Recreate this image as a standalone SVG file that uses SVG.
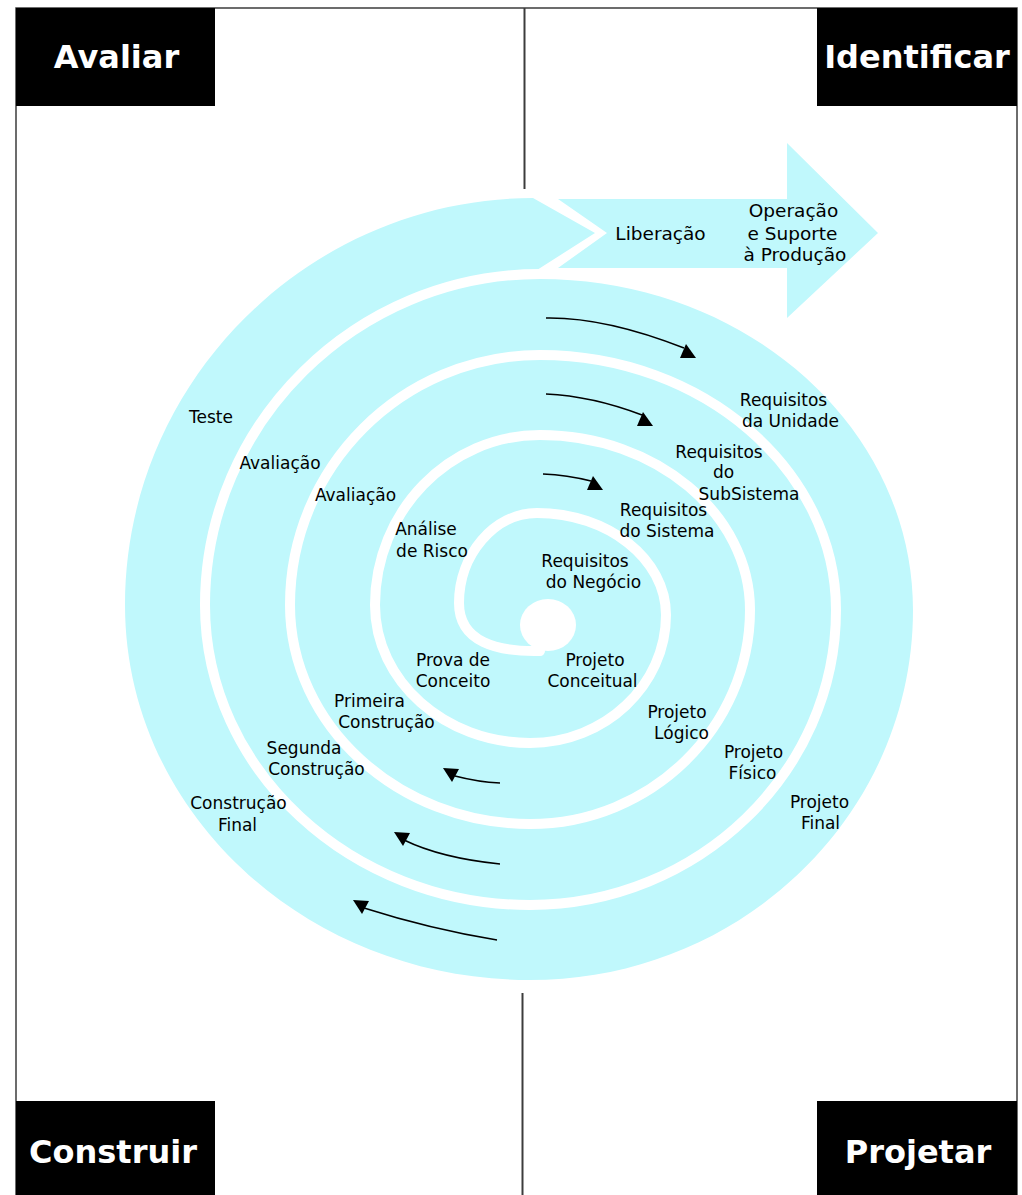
<svg xmlns="http://www.w3.org/2000/svg" xmlns:xlink="http://www.w3.org/1999/xlink" width="1022" height="1195" viewBox="0 0 1022 1195">
<defs>
<style>
.frame{fill:none;stroke:#3c3c3c;stroke-width:1.5}
.divider{fill:none;stroke:#3c3c3c;stroke-width:2}
.box{fill:#000}
.head{font-family:"DejaVu Sans","Liberation Sans",sans-serif;font-weight:bold;font-size:32px;fill:#fff;text-anchor:middle}
.lbl{font-family:"DejaVu Sans","Liberation Sans",sans-serif;font-size:17px;fill:#000;text-anchor:middle}
.big{font-size:18.5px}
.cyan{fill:#C0F8FC}
.gap{fill:none;stroke:#fff;stroke-width:10;stroke-linecap:round}
.conn{fill:none;stroke:#000;stroke-width:1.5}
</style>
<path id="headUp" d="M0,0 L10,14 L-6,14 Z" fill="#000"/>
<path id="headDown" d="M0,0 L-9,-14 L7,-13 Z" fill="#000"/>
</defs>
<rect width="1022" height="1195" fill="#fff"/>

<g id="frame">
<rect class="frame" x="16" y="8" width="1001" height="1200"/>
<line class="divider" x1="524.5" y1="8" x2="524.5" y2="189"/>
<line class="divider" x1="522.5" y1="993" x2="522.5" y2="1195"/>
</g>

<g id="spiral">
<path class="cyan" d="M540,279 C746,279 913,427 913,610 C913,814 742,980 530,980 C306,980 125,812 125,605 C125,380 311,198 533,198 L595,233 L537,270 Z"/>
<path id="release-arrow" class="cyan" d="M558,199 L787,199 L787,143 L878,233 L787,318 L787,268 L558,268 L607,233 Z"/>
<path class="gap" d="M540,651 C497,652 459,642 459,603 C459,555 494,513 537,513 C608,513 666,559 666,615 C666,685 605,743 530,743 C445,743 375,681 375,605 C375,511 449,435 540,435 C656,435 750,514 750,610 C750,727 651,824 530,824 C398,824 290,725 290,605 C290,467 402,355 540,355 C703,355 836,470 836,610 C836,772 698,905 530,905 C351,905 205,770 205,605 C205,423 356,274 540,274 L558,274"/>
<ellipse cx="548" cy="625" rx="28" ry="26" fill="#fff"/>
</g>

<g id="avaliar"><rect class="box" x="16" y="8" width="199" height="98"/><text class="head" x="116.5" y="67.5">Avaliar</text></g>
<g id="identificar"><rect class="box" x="817" y="8" width="200" height="98"/><text class="head" x="917" y="67.5">Identificar</text></g>
<g id="construir"><rect class="box" x="16" y="1101" width="199" height="94"/><text class="head" x="113" y="1163">Construir</text></g>
<g id="projetar"><rect class="box" x="817" y="1101" width="200" height="94"/><text class="head" x="918" y="1163">Projetar</text></g>

<g id="connectors">
<path class="conn" d="M546,318 Q605,317 684,348"/>
<use xlink:href="#headUp" x="686" y="344"/>
<path class="conn" d="M546,394 Q592,396 642,415"/>
<use xlink:href="#headUp" x="643" y="412"/>
<path class="conn" d="M543,474 Q567,475 591,481"/>
<use xlink:href="#headUp" x="593" y="476"/>
<path class="conn" d="M500,783 Q478,782 455,776"/>
<use xlink:href="#headDown" x="452" y="782"/>
<path class="conn" d="M500,864 Q441,858 404,840"/>
<use xlink:href="#headDown" x="403" y="846"/>
<path class="conn" d="M497,940 Q430,929 364,908"/>
<use xlink:href="#headDown" x="362" y="914"/>
</g>

<g id="liberacao"><text class="lbl big" x="660.5" y="240">Liberação</text></g>
<g id="operacao"><text class="lbl big" x="793.5" y="217">Operação</text><text class="lbl big" x="792.5" y="240">e Suporte</text><text class="lbl big" x="795" y="261">à Produção</text></g>
<g id="req-unidade"><text class="lbl" x="783.5" y="406">Requisitos</text><text class="lbl" x="790.5" y="427">da Unidade</text></g>
<g id="req-subsistema"><text class="lbl" x="719" y="458">Requisitos</text><text class="lbl" x="723.5" y="478">do</text><text class="lbl" x="749" y="500">SubSistema</text></g>
<g id="req-sistema"><text class="lbl" x="663.5" y="516">Requisitos</text><text class="lbl" x="667" y="537">do Sistema</text></g>
<g id="req-negocio"><text class="lbl" x="585" y="567">Requisitos</text><text class="lbl" x="593.5" y="588">do Negócio</text></g>
<g id="teste"><text class="lbl" x="211" y="423">Teste</text></g>
<g id="avaliacao-1"><text class="lbl" x="280" y="469">Avaliação</text></g>
<g id="avaliacao-2"><text class="lbl" x="355.5" y="501">Avaliação</text></g>
<g id="analise-risco"><text class="lbl" x="426" y="535">Análise</text><text class="lbl" x="432" y="557">de Risco</text></g>
<g id="prova-conceito"><text class="lbl" x="453" y="666">Prova de</text><text class="lbl" x="453" y="687">Conceito</text></g>
<g id="projeto-conceitual"><text class="lbl" x="595" y="666">Projeto</text><text class="lbl" x="592.5" y="687">Conceitual</text></g>
<g id="primeira-construcao"><text class="lbl" x="369.5" y="707">Primeira</text><text class="lbl" x="386.5" y="728">Construção</text></g>
<g id="segunda-construcao"><text class="lbl" x="304" y="754">Segunda</text><text class="lbl" x="316.5" y="775">Construção</text></g>
<g id="construcao-final"><text class="lbl" x="238.5" y="809">Construção</text><text class="lbl" x="237.5" y="831">Final</text></g>
<g id="projeto-logico"><text class="lbl" x="677" y="718">Projeto</text><text class="lbl" x="681.5" y="739">Lógico</text></g>
<g id="projeto-fisico"><text class="lbl" x="753.5" y="758">Projeto</text><text class="lbl" x="752.5" y="779">Físico</text></g>
<g id="projeto-final"><text class="lbl" x="819.5" y="808">Projeto</text><text class="lbl" x="820.5" y="829">Final</text></g>
</svg>
